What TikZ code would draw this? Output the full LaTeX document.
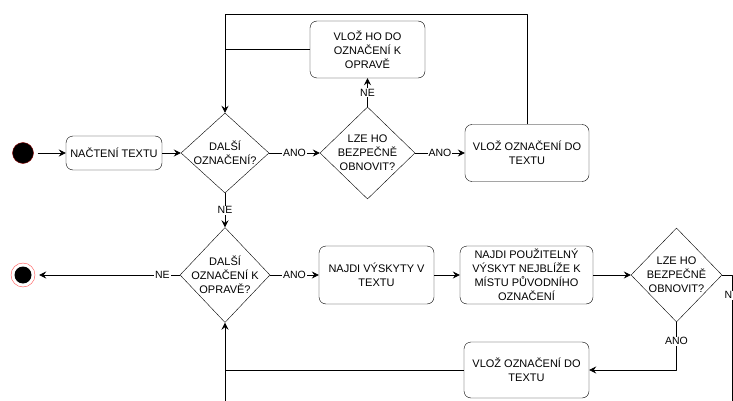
\documentclass[tikz,border=0pt]{standalone}
\usepackage{fontspec}
\setmainfont{Liberation Sans}
\usetikzlibrary{arrows.meta,shapes.geometric}
\begin{document}
\begin{tikzpicture}[x=1pt,y=-1pt,line join=round,>={Stealth[length=7pt,width=7pt,inset=2.5pt]},
	every node/.style={font=\fontsize{11}{14}\selectfont},
	box/.style={draw,rounded corners=7pt,align=center,inner sep=0pt},
	decision/.style={draw,diamond,inner sep=0pt},
	lbl/.style={fill=white,inner sep=1pt,font=\fontsize{10.5}{12}\selectfont},
	startdot/.style={circle,fill=black,draw=red!55!black,minimum size=21pt,inner sep=0pt},
	enddot/.style={circle,draw=red!70!white,fill=white,minimum size=24pt,inner sep=0pt,
		path picture={\fill[black] (path picture bounding box.center) circle (8.5pt);}},
	flow/.style={draw,line width=0.8pt}]
	\useasboundingbox (0,0) rectangle (733,401);
	\clip (0,0) rectangle (733,401);
	% top row
	\node[startdot] (start) at (23,153) {};
	\node[box,minimum width=96pt,minimum height=34pt] (read) at (114,153) {NAČTENÍ TEXTU};
	\node[decision,minimum width=88pt,minimum height=80pt,label={[align=center]center:DALŠÍ\\OZNAČENÍ?}] (more) at (225,153) {};
	\node[decision,minimum width=95pt,minimum height=92pt,label={[align=center]center:LZE HO\\BEZPEČNĚ\\OBNOVIT?}] (safe) at (367.5,153) {};
	\node[box,minimum width=115pt,minimum height=57pt] (mark) at (367.5,49.5) {VLOŽ HO DO\\OZNAČENÍ K\\OPRAVĚ};
	\node[box,minimum width=124pt,minimum height=57pt] (ins) at (527,153) {VLOŽ OZNAČENÍ DO\\TEXTU};
	% bottom row
	\node[enddot] (end) at (23,275) {};
	\node[decision,minimum width=90pt,minimum height=95pt,label={[align=center]center:DALŠÍ\\OZNAČENÍ K\\OPRAVĚ?}] (fix) at (225,275) {};
	\node[box,minimum width=115pt,minimum height=58pt] (find) at (376.5,275) {NAJDI VÝSKYTY V\\TEXTU};
	\node[box,minimum width=133pt,minimum height=58pt] (near) at (526.5,275) {NAJDI POUŽITELNÝ\\VÝSKYT NEJBLÍŽE K\\MÍSTU PŮVODNÍHO\\OZNAČENÍ};
	\node[decision,minimum width=91pt,minimum height=94pt,label={[align=center]center:LZE HO\\BEZPEČNĚ\\OBNOVIT?}] (safe2) at (676.5,275) {};
	\node[box,minimum width=125pt,minimum height=56pt] (ins2) at (526.5,370) {VLOŽ OZNAČENÍ DO\\TEXTU};
	\coordinate (out1) at (732,420);
	\coordinate (out2) at (225,420);
	% connectors
	\draw[flow,->,shorten <=4pt] (start) -- (read);
	\draw[flow,->] (read) -- (more);
	\draw[flow,->] (more) -- node[lbl]{ANO} (safe);
	\draw[flow,->] (safe) -- node[lbl]{ANO} (ins);
	\draw[flow,->] (safe) -- node[lbl]{NE} (mark);
	\draw[flow,->] (ins.north) -- (ins.north |- 0,14) -| (more.north);
	\draw[flow] (mark.west) -- (mark.west -| more.north);
	\draw[flow,->] (more) -- node[lbl]{NE} (fix);
	\draw[flow,->,shorten >=4pt] (fix) -- node[lbl,pos=0.12]{NE} (end);
	\draw[flow,->] (fix) -- node[lbl]{ANO} (find);
	\draw[flow,->] (find) -- (near);
	\draw[flow,->] (near) -- (safe2);
	\draw[flow,->] (safe2.south) |- node[lbl,pos=0.2]{ANO} (ins2.east);
	\draw[flow] (safe2.east) -| node[lbl,pos=0.57]{NE} (out1);
	\draw[flow] (ins2.west) -- (ins2.west -| fix.south);
	\draw[flow,->] (out2) -- (fix.south);
\end{tikzpicture}
\end{document}
